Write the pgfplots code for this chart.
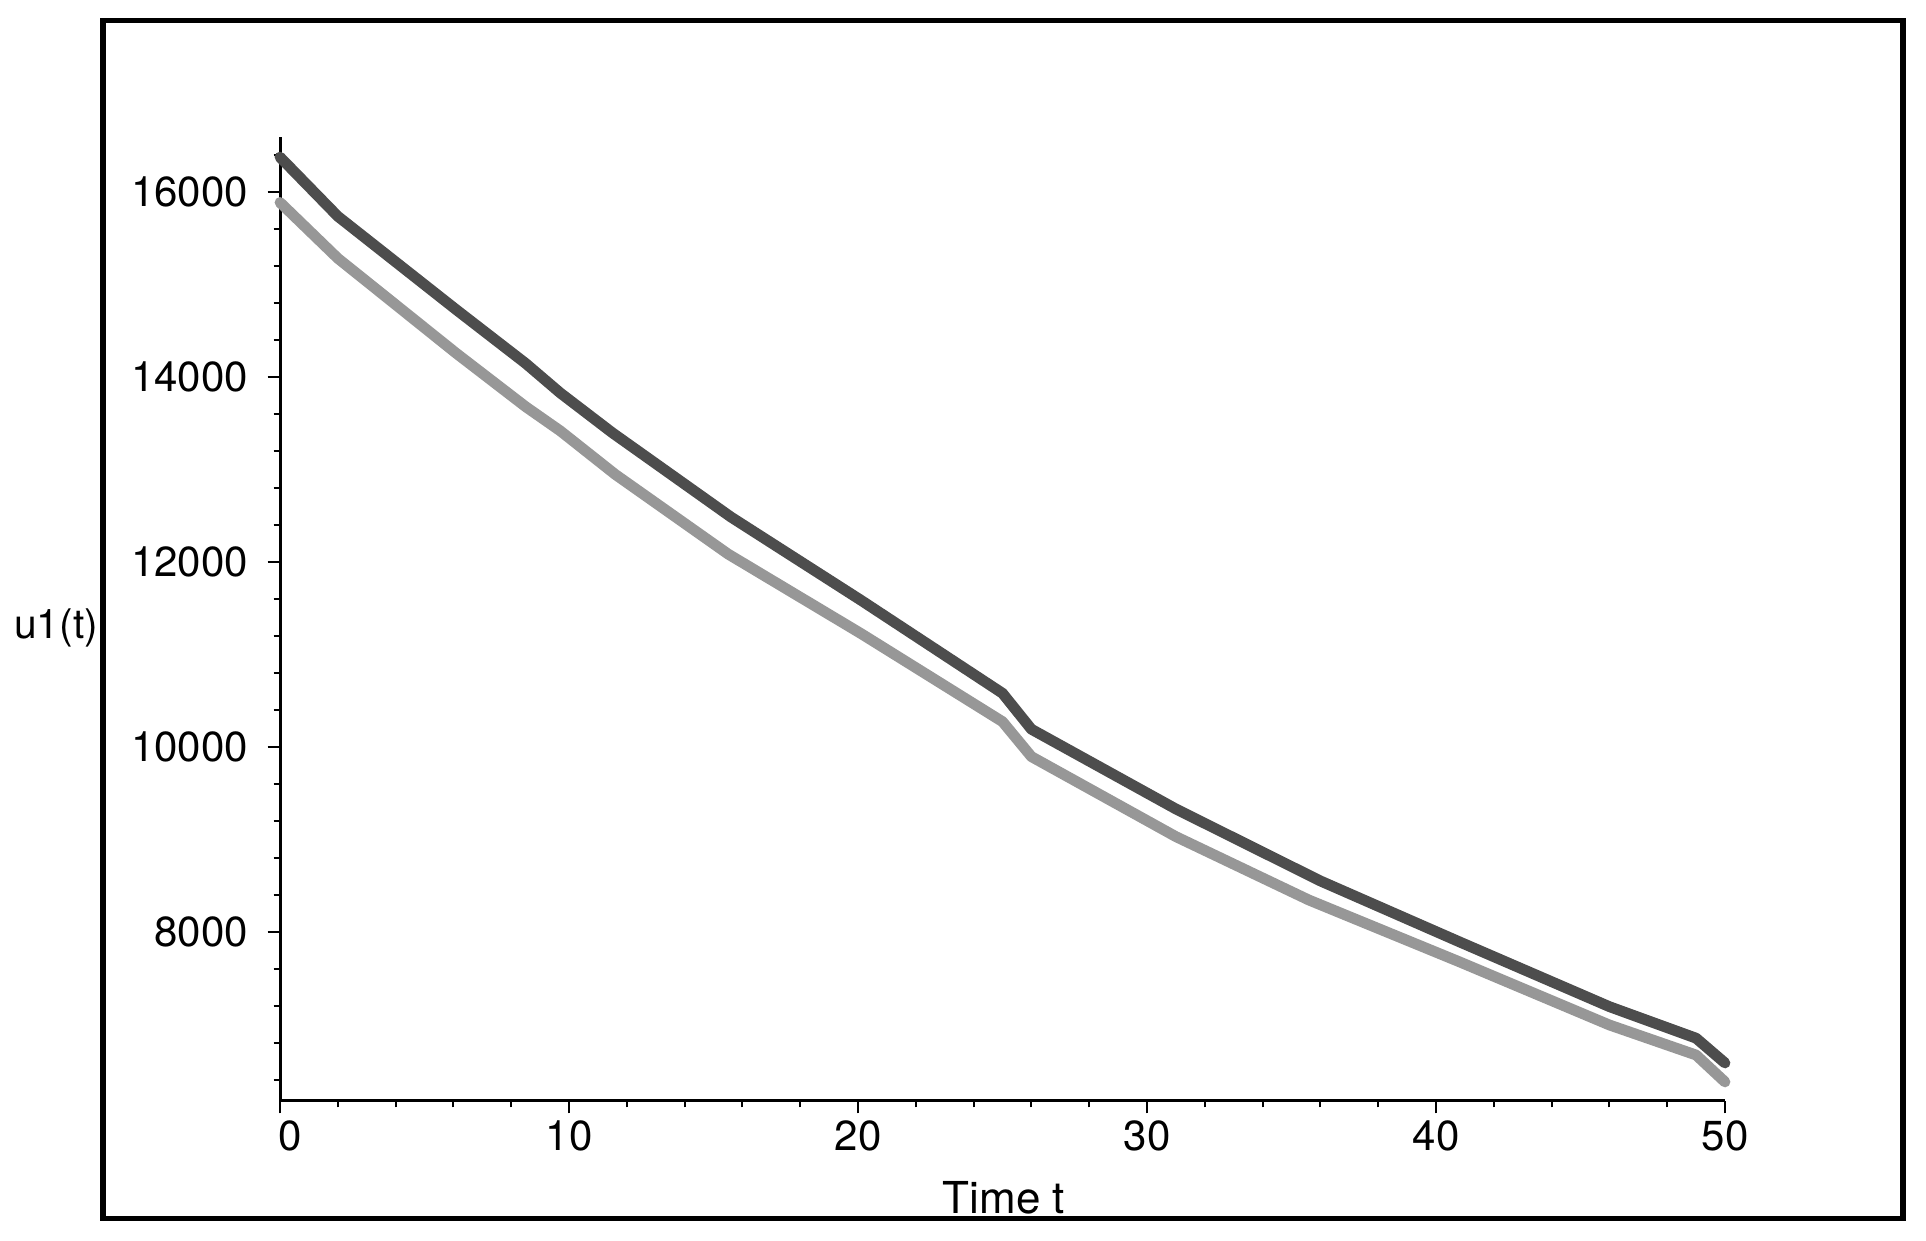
\documentclass[border=0pt]{standalone}
\usepackage{fontspec}
\setmainfont{TeX Gyre Heros}
\usepackage{pgfplots}
\pgfplotsset{compat=1.18}
\definecolor{darkc}{HTML}{4D4D4D}
\definecolor{lightc}{HTML}{979797}
\begin{document}
\begin{tikzpicture}
\useasboundingbox (0,0) rectangle (481.5pt,310.25pt);
\draw[line width=1.3pt] (25.75pt,5.6pt) rectangle (475.75pt,305.1pt);
\begin{axis}[
  at={(70pt,35pt)}, anchor=south west,
  scale only axis, width=361.25pt, height=241.08pt,
  xmin=0, xmax=50, ymin=6176, ymax=16601,
  axis lines=left,
  axis line style={-, line width=0.75pt, black},
  tick align=outside,
  major tick length=3.1pt, minor tick length=1.6pt,
  tick style={line width=0.5pt, black},
  xtick={0,10,...,50}, ytick={8000,10000,...,16000},
  xticklabels={{\hspace*{5pt}0},10,20,30,40,50},
  minor xtick={0,2,...,50}, minor ytick={6400,6800,...,16400},
  scaled y ticks=false,
  /pgf/number format/.cd, 1000 sep={}, assume math mode=true,
  /pgfplots/.cd,
  ticklabel style={font=\fontsize{10.5}{12}\selectfont},
  yticklabel style={xshift=-1.4pt},
  xticklabel style={yshift=1.75pt},
  every axis x label/.style={at={(axis description cs:0.501,-0.117)}, anchor=base, inner sep=0pt, font=\fontsize{11}{13}\selectfont},
  every axis y label/.style={at={(axis description cs:-0.1253,0.480)}, anchor=base east, inner sep=0pt, font=\fontsize{10.2}{12}\selectfont},
  xlabel={Time t},
  ylabel={u1(t)},
  clip=false,
]
\addplot[lightc, line width=2.7pt, line cap=round, line join=round, mark=none] coordinates {
(0,15890) (2,15286) (6.1,14259) (8.5,13682) (9.7,13420) (11.6,12950)
(15.5,12090) (20.1,11230) (25,10277) (26,9899) (31,9034) (35.6,8349)
(40.8,7682) (46,6998) (49,6673) (50,6382)
};
\addplot[darkc, line width=2.7pt, line cap=round, line join=round, mark=none] coordinates {
(0,16380) (2,15740) (6.1,14730) (8.5,14150) (9.7,13830) (11.5,13400)
(15.6,12490) (20.1,11590) (25,10584) (26,10195) (31,9333) (36,8555)
(40.8,7898) (46,7196) (49,6855) (50,6587)
};
\end{axis}
\end{tikzpicture}
\end{document}
